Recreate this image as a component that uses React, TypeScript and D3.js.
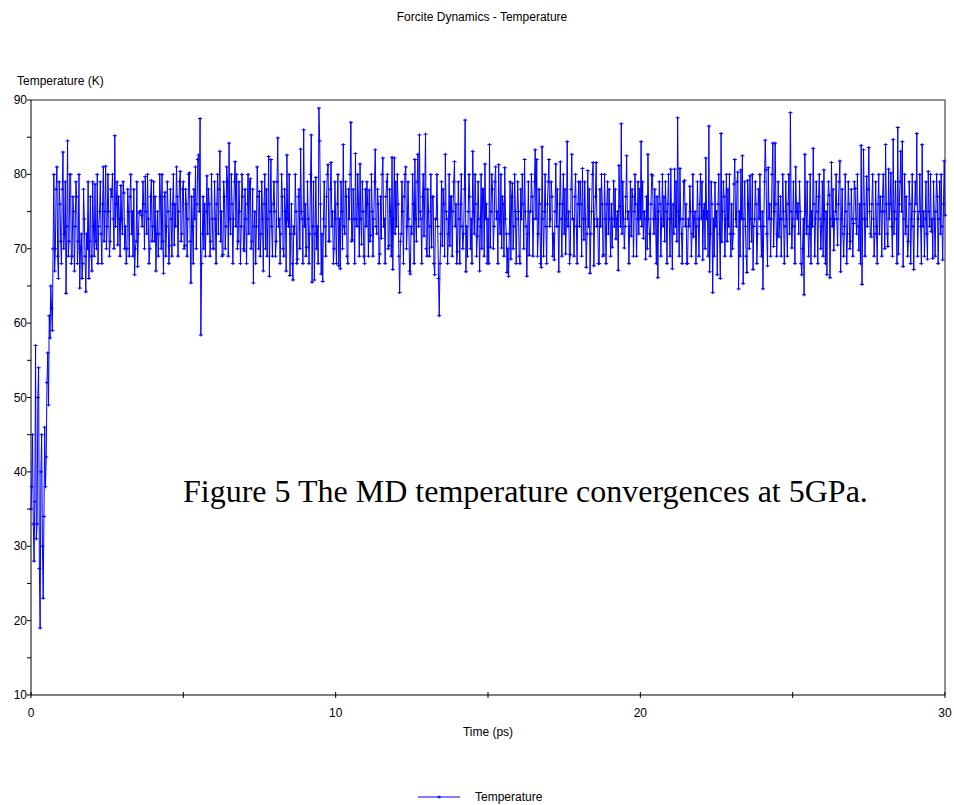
import React, { useRef, useEffect } from "react";
import { select, scaleLinear, line } from "d3";

const TITLE = "Forcite Dynamics - Temperature";
const Y_LABEL = "Temperature (K)";
const X_LABEL = "Time (ps)";
const SERIES_NAME = "Temperature";
const CAPTION = "Figure 5 The MD temperature convergences at 5GPa.";

const xTicks = [0, 10, 20, 30];
const xMinorTicks = [5, 15, 25];
const yTicks = [10, 20, 30, 40, 50, 60, 70, 80, 90];
const yMinorTicks = [15, 25, 35, 45, 55, 65, 75, 85];

const runLength = 30; // ps

// temperature (K), frames evenly spaced over the run, one row per ps
const temperature = [
  35, 38, 45, 33, 28, 36, 57, 31, 33, 50, 54, 27, 19, 40, 45, 30, 23, 34, 46, 38, 42, 52, 56, 49, 61, 58, 65, 62, 59, 70, 80, 67, 70, 78, 81, 69, 66, 79, 76, 71,
  68, 78, 83, 70, 72, 79, 64, 73, 84.5, 69, 71, 80, 80, 68, 69, 77, 75, 67, 73, 79, 77, 68, 71, 80, 64.7, 70, 72, 66, 68, 78, 74, 69, 64.2, 72, 70, 79, 66, 71, 77, 69,
  67, 79, 73, 69, 78.7, 71, 70, 80, 68, 73, 75, 79, 72, 68, 76, 81, 71, 75, 81.1, 70, 73, 80, 75, 69, 71, 78, 77, 80, 74, 70, 85.2, 73, 76, 79, 70.5, 77, 74, 69, 78.5, 74,
  72, 79, 77.5, 70, 73, 68, 70, 78, 75, 69, 77, 80, 72, 75, 69, 78, 66.5, 70, 71, 79, 67.6, 72, 74.8, 75, 75.1, 74.5, 73, 79, 76, 70, 79.7, 75, 72, 80, 74, 68, 70, 77, 79.2, 71,
  73, 79, 71, 77, 67, 72, 75, 69, 72, 80, 77, 70, 80, 71, 66.7, 77, 77.6, 69, 73, 79, 75, 68, 70.4, 78, 74, 69, 76, 80, 70.5, 76, 73, 81, 77, 69, 75, 79, 80.4, 71, 72, 78,
  79, 70, 70.4, 78, 76, 69, 74, 80, 80.2, 71, 65.4, 77, 73, 68, 78, 74, 81, 70, 76, 82, 82.6, 75, 87.5, 58.4, 68, 72, 77, 70, 76, 69, 75, 79.8, 72, 78, 76, 69, 71, 80, 74, 70,
  70, 79, 74, 68, 76, 80, 72, 78, 83.1, 71, 75, 69, 69.2, 79, 77, 70, 73, 81, 79, 69, 84.2, 74, 72, 80, 76, 68, 74, 79, 81.7, 73, 80, 70, 71, 79, 75, 68, 73, 80, 77, 70,
  69.7, 78, 74, 68, 76, 80, 72, 79, 79.4, 70, 71, 78, 65.4, 73, 75, 68, 73, 81, 77, 70, 77.7, 69, 72, 79, 74, 67, 76, 80, 70, 78, 69, 74, 82.4, 66.3, 75, 82, 73, 69, 76, 79,
  75, 69, 71, 79, 84.9, 73, 74, 68, 72, 80, 77, 70, 69, 78, 75, 67, 82.6, 74, 73, 80, 66.4, 72, 76, 68, 65.8, 73, 72, 80, 75, 68, 68.6, 77, 78, 70, 83.4, 75, 74, 68, 86, 73,
  76, 69, 70.2, 79, 74, 68, 72, 80, 85.3, 65.5, 73, 79, 65.8, 72, 79.6, 70, 73, 68, 88.9, 84.5, 76, 66.6, 72, 65.6, 74, 79, 73, 69, 77, 80, 81.3, 71, 71, 78, 81.6, 73, 75, 68, 70, 79,
  74, 68, 76, 80, 67.7, 74, 67.3, 79, 75, 70, 84, 73, 72, 79, 77, 69, 68, 78, 74, 80, 87, 71, 71.2, 78, 74, 68, 82.8, 74, 73, 80, 76, 69, 81.4, 74, 70.6, 79, 75, 69, 68, 78,
  73, 79, 76, 69, 77.9, 71, 71.8, 80, 75, 69, 74, 79, 83.3, 73, 72, 78, 76, 68, 69.3, 77, 71.4, 80, 82.2, 73, 74, 68, 77, 79, 80, 70, 70.4, 78, 75, 69, 82.3, 67.2, 74, 82.2, 72, 79,
  73, 80, 76, 69, 64.1, 71, 72, 79, 75, 68, 77, 80, 81, 70, 73, 79, 74, 67, 66.6, 73, 72, 80, 76, 68, 82, 74, 71, 79, 82.7, 73, 85.3, 75, 74, 68, 77, 80, 71.7, 78, 85.4, 70,
  69, 78, 75, 69, 73, 80, 70.2, 77, 77, 68, 66.5, 74, 74, 80, 73, 66, 61, 68, 72, 79, 70.4, 78, 76, 69, 82.7, 75, 74, 68, 72, 80, 70.4, 77, 77, 69, 75, 79, 81.7, 73, 76, 68,
  69.6, 79, 74, 68, 76, 80, 73, 70, 72, 78, 87.3, 66.9, 73, 69, 75, 80, 77, 70, 74, 68, 83.1, 75, 72, 80, 76, 69, 71.7, 79, 74, 67, 73, 80, 70, 78, 78, 69, 81.4, 74, 76, 68,
  74, 68, 84, 70.2, 75, 80, 78, 70, 73, 79, 81, 74, 75, 68, 81.3, 74, 72, 80, 70.1, 77, 76, 69, 80.9, 74, 72, 66.8, 70, 66.3, 72, 79, 68.6, 77, 78.8, 70, 73, 80, 75, 68, 74, 79,
  75, 69, 68, 78, 74, 80, 76, 70, 82, 75, 73, 66.3, 72, 79, 69.1, 75, 75, 80, 77, 69, 74, 79, 83.3, 74, 82, 69, 72, 78, 76, 68, 67.5, 83.7, 74, 69, 75, 80, 73, 68, 76, 79,
  82, 73, 74, 79, 77, 69, 72, 68.5, 75, 81.4, 73, 78, 73, 66.9, 76, 81.7, 74, 69, 76, 80, 72, 78, 69.3, 74, 84.4, 73, 75, 68, 69.2, 78, 82.7, 74, 74, 69, 77, 80, 73, 68, 76, 79,
  73, 79, 76, 69, 80.8, 74, 71.2, 79, 74, 67.5, 72, 80.5, 73, 78, 66.7, 72, 75, 80, 81.6, 67.7, 74, 77, 81.6, 73, 74, 68, 68, 78, 73, 80, 76, 69, 69.2, 80, 74, 68, 76, 79, 72, 78,
  74, 69, 76, 70.2, 74, 79.1, 73, 78, 71.3, 74, 75, 67.1, 81.2, 75.7, 73, 86.8, 72, 79, 74, 70.1, 73, 77, 82.5, 74, 75, 68, 73, 79, 71.7, 78, 77, 69, 75, 80, 76, 69, 74, 79, 72, 78,
  74, 84.4, 73, 79, 71.4, 75, 74, 68.6, 77, 70, 82.7, 74, 72, 69, 76, 80, 79.8, 74, 72, 78, 74, 68, 77, 66.1, 75, 79, 76, 69, 74, 80, 73, 77, 71, 79, 75, 68, 76, 80, 74, 69,
  80.7, 74, 67.3, 76, 72, 80.7, 73, 79, 71, 87.6, 75, 69, 80.8, 74, 72, 68, 74, 79, 79.2, 73, 76, 68, 68, 74, 73, 78.4, 75, 69, 72, 80, 71.6, 74, 75, 68, 73, 79, 74, 69, 76, 80,
  74, 79, 68.5, 75, 76, 70, 82.2, 74, 75, 69, 86.5, 66.9, 72, 79, 76, 64.1, 74, 69, 78.9, 73, 75, 66.5, 76, 80, 72, 66, 85.5, 70.9, 75, 79, 77, 69, 74, 80, 71, 78, 73, 80, 72, 69,
  76, 70, 72, 78.7, 82, 74, 73, 79, 80.3, 64.6, 75, 69, 80.6, 74, 82.5, 65.3, 74, 79, 73, 69, 66.8, 79.2, 76, 70, 79.8, 74, 71, 80, 67.2, 73, 74, 79, 76, 68, 72, 78, 74, 80, 73, 69,
  75, 64.6, 73, 79, 84.6, 80.6, 72, 67.7, 80.9, 74, 76, 69, 74, 80, 84.2, 70.3, 75, 84.2, 76, 69, 72, 79, 71.6, 74, 77, 69, 74, 80, 75, 68, 73, 79, 74, 69, 76, 80, 72, 88.3, 75, 70.1,
  74, 79, 73, 68, 81, 75, 74, 76.1, 72, 79, 75, 68, 66.5, 70, 74, 63.8, 82.7, 75, 72, 79, 73, 69, 72, 80, 68, 75, 73, 83.5, 76, 69, 74, 79, 75, 68, 77, 80, 74, 70, 73, 79,
  69, 80.6, 74, 68, 75, 66.5, 76, 79, 77.2, 66.1, 74, 81.6, 73, 78, 69.8, 74, 75, 80, 74, 70.5, 76, 79, 81.8, 66.9, 74, 78, 72, 69, 73, 80, 75, 68, 72, 79, 76, 70, 71, 78, 74, 69,
  73.4, 79, 78.1, 74, 72, 80, 73, 69.8, 76, 68, 83.9, 65.2, 74, 83.3, 76, 69, 74, 79.7, 73, 78, 83.6, 75, 72, 71.6, 76, 80, 74, 69, 72, 79, 73, 68, 76, 80, 72, 77, 75, 69, 77, 80,
  75, 70, 84, 76, 72, 70.3, 80.7, 74, 76, 80.2, 73, 69, 84.7, 72, 75, 79, 74, 68, 86.3, 69.3, 76, 79, 83.1, 75, 84.4, 67.6, 74, 80, 72, 77, 73, 69, 71, 79, 76, 68, 74, 80, 73, 67.2,
  75, 79, 76, 85.5, 69, 74, 75, 80, 73, 68, 84, 73, 75, 69, 74, 79, 72, 68.6, 80.4, 75, 73, 80, 72.3, 74, 68.7, 79, 74, 69, 75, 80, 77, 68, 74, 79, 72, 80, 73, 68.5, 76, 81.8,
  74.5,
];

const TemperatureChart = ({
  width = 954,
  height = 805,
  marginTop = 100,
  marginBottom = 110,
  marginLeft = 31,
  marginRight = 9,
}) => {
  const svgRef = useRef(null);

  useEffect(() => {
    const svg = select(svgRef.current);
    svg.selectAll("*").remove();

    const uiFont = "'Liberation Sans', Arial, sans-serif";
    const blue = "#0000ff";

    const xScale = scaleLinear()
      .domain([0, 30])
      .range([marginLeft, width - marginRight]);
    const yScale = scaleLinear()
      .domain([10, 90])
      .range([height - marginBottom, marginTop]);

    const x0 = xScale(0);
    const x1 = xScale(30);
    const yTop = yScale(90);
    const yBot = yScale(10);

    // frame: top / right in gray, axes in black
    svg
      .append("path")
      .attr("d", `M${x0},${yTop}H${x1}V${yBot}`)
      .attr("fill", "none")
      .attr("stroke", "#6e6e6e")
      .attr("stroke-width", 1.5);

    svg
      .append("path")
      .attr("d", `M${x0},${yTop}V${yBot}H${x1}`)
      .attr("fill", "none")
      .attr("stroke", "#000")
      .attr("stroke-width", 1);

    // y ticks
    svg
      .append("g")
      .selectAll("line")
      .data([...yTicks, ...yMinorTicks])
      .join("line")
      .attr("x1", x0 - 4)
      .attr("x2", x0)
      .attr("y1", (d) => yScale(d))
      .attr("y2", (d) => yScale(d))
      .attr("stroke", "#000");

    svg
      .append("g")
      .selectAll("text")
      .data(yTicks)
      .join("text")
      .attr("x", x0 - 4)
      .attr("y", (d) => yScale(d) + 4)
      .attr("text-anchor", "end")
      .attr("font-family", uiFont)
      .attr("font-size", 12)
      .text((d) => d);

    // x ticks
    svg
      .append("g")
      .selectAll("line")
      .data([...xTicks, ...xMinorTicks])
      .join("line")
      .attr("x1", (d) => xScale(d))
      .attr("x2", (d) => xScale(d))
      .attr("y1", yBot - 3)
      .attr("y2", yBot + 3)
      .attr("stroke", "#000");

    svg
      .append("g")
      .selectAll("text")
      .data(xTicks)
      .join("text")
      .attr("x", (d) => xScale(d))
      .attr("y", yBot + 22)
      .attr("text-anchor", "middle")
      .attr("font-family", uiFont)
      .attr("font-size", 12)
      .text((d) => d);

    // series
    const step = runLength / (temperature.length - 1);
    const points = temperature.map((v, i) => [i * step, v]);

    const tempLine = line()
      .x((d) => xScale(d[0]))
      .y((d) => yScale(d[1]));

    svg
      .append("path")
      .datum(points)
      .attr("d", tempLine)
      .attr("fill", "none")
      .attr("stroke", blue)
      .attr("stroke-width", 1);

    svg
      .append("path")
      .attr(
        "d",
        points
          .map((d) => {
            const px = xScale(d[0]);
            const py = yScale(d[1]);
            return `M${px - 2},${py}h4M${px},${py - 1.5}v3`;
          })
          .join("")
      )
      .attr("fill", "none")
      .attr("stroke", blue)
      .attr("stroke-width", 1);

    // titles
    svg
      .append("text")
      .attr("x", 482)
      .attr("y", 21)
      .attr("text-anchor", "middle")
      .attr("font-family", uiFont)
      .attr("font-size", 12)
      .text(TITLE);

    svg
      .append("text")
      .attr("x", 17)
      .attr("y", 85)
      .attr("font-family", uiFont)
      .attr("font-size", 12)
      .text(Y_LABEL);

    svg
      .append("text")
      .attr("x", (x0 + x1) / 2)
      .attr("y", yBot + 41)
      .attr("text-anchor", "middle")
      .attr("font-family", uiFont)
      .attr("font-size", 12)
      .text(X_LABEL);

    // legend
    const legend = svg.append("g").attr("transform", "translate(418,797)");
    legend
      .append("line")
      .attr("x1", 0)
      .attr("x2", 42)
      .attr("stroke", blue);
    legend
      .append("path")
      .attr("d", "M19,0h4M21,-1.5v3")
      .attr("stroke", blue);
    legend
      .append("text")
      .attr("x", 57)
      .attr("y", 4)
      .attr("font-family", uiFont)
      .attr("font-size", 12)
      .text(SERIES_NAME);

    // caption pasted over the plot
    svg
      .append("text")
      .attr("x", 183)
      .attr("y", 502)
      .attr("font-family", "'Liberation Serif', 'Times New Roman', serif")
      .attr("font-size", 32)
      .attr("fill", "#000")
      .text(CAPTION);
  }, []);

  return (
    <svg
      ref={svgRef}
      width={width}
      height={height}
      style={{ position: "absolute", left: 0, top: 0, background: "#fff" }}
    />
  );
};

export default function App() {
  return <TemperatureChart />;
}
